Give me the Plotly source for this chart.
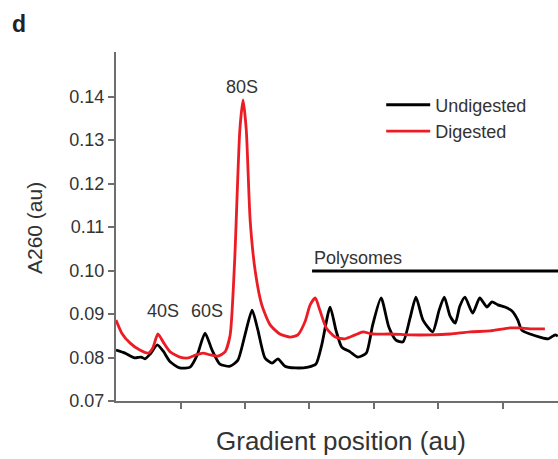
import plotly.graph_objects as go

# Gradient position (au) and A260 (au)
undigested_x = [0, 0.14, 0.29, 0.39, 0.45, 0.53, 0.64, 0.73, 0.84, 0.99, 1.15, 1.26, 1.38, 1.49,
                1.61, 1.77, 1.89, 2.0, 2.11, 2.2, 2.31, 2.42, 2.51, 2.62, 2.78, 2.98, 3.1, 3.19,
                3.32, 3.41, 3.5, 3.63, 3.75, 3.88, 3.98, 4.11, 4.23, 4.34, 4.45, 4.56, 4.65,
                4.76, 4.91, 5.01, 5.09, 5.18, 5.26, 5.33, 5.41, 5.53, 5.64, 5.75, 5.83, 5.92,
                6.03, 6.14, 6.23, 6.29, 6.42, 6.57, 6.7, 6.81, 6.85]
undigested_y = [0.0817, 0.0810, 0.0799, 0.0801, 0.0797, 0.0808, 0.0829, 0.0815, 0.0790, 0.0776,
                0.0778, 0.0806, 0.0856, 0.0817, 0.0785, 0.0780, 0.0794, 0.0852, 0.0909, 0.0863,
                0.0799, 0.0787, 0.0797, 0.0780, 0.0776, 0.0778, 0.0785, 0.0829, 0.0916, 0.0863,
                0.0824, 0.0813, 0.0801, 0.0810, 0.0875, 0.0937, 0.0870, 0.0840, 0.0836, 0.0891,
                0.0939, 0.0886, 0.0859, 0.0909, 0.0939, 0.0895, 0.0879, 0.0918, 0.0939, 0.0902,
                0.0937, 0.0916, 0.0928, 0.0921, 0.0916, 0.0907, 0.0886, 0.0863, 0.0854, 0.0847,
                0.0843, 0.0852, 0.0849]

digested_x = [0, 0.09, 0.22, 0.37, 0.5, 0.57, 0.65, 0.73, 0.84, 0.99, 1.12, 1.24, 1.35, 1.46,
              1.58, 1.69, 1.77, 1.84, 1.92, 1.97, 2.02, 2.08, 2.16, 2.26, 2.39, 2.54, 2.7, 2.82,
              2.93, 3.01, 3.09, 3.16, 3.26, 3.4, 3.55, 3.71, 3.83, 3.97, 4.25, 4.56, 4.87, 5.18,
              5.49, 5.8, 6.11, 6.26, 6.42, 6.65]
digested_y = [0.0886, 0.0856, 0.0833, 0.0817, 0.0810, 0.0822, 0.0854, 0.0836, 0.0813, 0.0801,
              0.0799, 0.0806, 0.0810, 0.0806, 0.0803, 0.0813, 0.0852, 0.1024, 0.1323, 0.1392,
              0.1323, 0.1116, 0.0997, 0.0921, 0.0875, 0.0854, 0.0847, 0.0852, 0.0882, 0.0921,
              0.0937, 0.0909, 0.0868, 0.0847, 0.0843, 0.0852, 0.0859, 0.0854, 0.0854, 0.0852,
              0.0852, 0.0854, 0.0859, 0.0861, 0.0868, 0.0868, 0.0866, 0.0866]

y_ticks = [0.07, 0.08, 0.09, 0.10, 0.11, 0.12, 0.13, 0.14]
y_tick_labels = ["0.07", "0.08", "0.09", "0.10", "0.11", "0.12", "0.13", "0.14"]
x_ticks = [1, 2, 3, 4, 5, 6]

peak_labels = ["40S", "60S", "80S"]
peak_label_x = [0.73, 1.41, 1.95]
peak_label_y = [0.0907, 0.0907, 0.1422]

polysome_x = [3.04, 6.9]
polysome_y = 0.0999

AXIS = "#6e6e6e"
TEXT = "#333333"
FONT = "Liberation Sans, Arial, sans-serif"

fig = go.Figure()
fig.add_trace(go.Scatter(x=undigested_x, y=undigested_y, mode="lines", name="Undigested",
                         line=dict(color="#000000", width=2.8, shape="spline", smoothing=0.6)))
fig.add_trace(go.Scatter(x=digested_x, y=digested_y, mode="lines", name="Digested",
                         line=dict(color="#ec1c24", width=2.8, shape="spline", smoothing=0.6)))

fig.add_shape(type="line", xref="x", yref="y", x0=polysome_x[0], x1=polysome_x[1],
              y0=polysome_y, y1=polysome_y, line=dict(color="#000000", width=3))
fig.add_annotation(x=polysome_x[0], y=polysome_y, xref="x", yref="y", text="Polysomes",
                   showarrow=False, xanchor="left", yanchor="bottom", yshift=1,
                   font=dict(size=18, color=TEXT, family=FONT))
for t, x, y in zip(peak_labels, peak_label_x, peak_label_y):
    fig.add_annotation(x=x, y=y, xref="x", yref="y", text=t, showarrow=False,
                       xanchor="center", yanchor="middle",
                       font=dict(size=18, color=TEXT, family=FONT))

fig.add_annotation(x=-0.183, y=0.496, xref="paper", yref="paper", text="A260 (au)",
                   textangle=-90, showarrow=False, xanchor="center", yanchor="middle",
                   font=dict(size=21, color=TEXT, family=FONT))
fig.add_annotation(x=0.509, y=-0.115, xref="paper", yref="paper", text="Gradient position (au)",
                   showarrow=False, xanchor="center", yanchor="middle",
                   font=dict(size=26, color=TEXT, family=FONT))
fig.add_annotation(x=-0.219, y=1.08, xref="paper", yref="paper", text="<b>d</b>",
                   showarrow=False, xanchor="center", yanchor="middle",
                   font=dict(size=23, color="#222222", family=FONT))

fig.update_layout(
    width=558, height=459,
    margin=dict(l=116, r=0, t=52, b=58),
    paper_bgcolor="white", plot_bgcolor="white",
    font=dict(family=FONT, color=TEXT, size=18),
    showlegend=True,
    legend=dict(x=0.60, y=0.901, xanchor="left", yanchor="top", bgcolor="rgba(0,0,0,0)",
                font=dict(size=18, color=TEXT, family=FONT), itemwidth=44),
    xaxis=dict(range=[0, 6.853], showgrid=False, zeroline=False, showline=True,
               linecolor=AXIS, linewidth=2, ticks="outside", tickvals=x_ticks,
               ticklen=6, tickwidth=1.5, tickcolor=AXIS, showticklabels=False),
    yaxis=dict(range=[0.07, 0.15023], showgrid=False, zeroline=False, showline=True,
               linecolor=AXIS, linewidth=2, ticks="outside", tickvals=y_ticks,
               ticktext=y_tick_labels, ticklen=6, tickwidth=1.5, tickcolor=AXIS,
               tickfont=dict(size=18, color=TEXT, family=FONT)),
)

# remove the default 8px page margin so the 558x459 figure fills the window exactly
fig.write_html("out.html", config={"displayModeBar": False},
               post_script="document.body.style.margin='0';document.body.style.overflow='hidden';")
